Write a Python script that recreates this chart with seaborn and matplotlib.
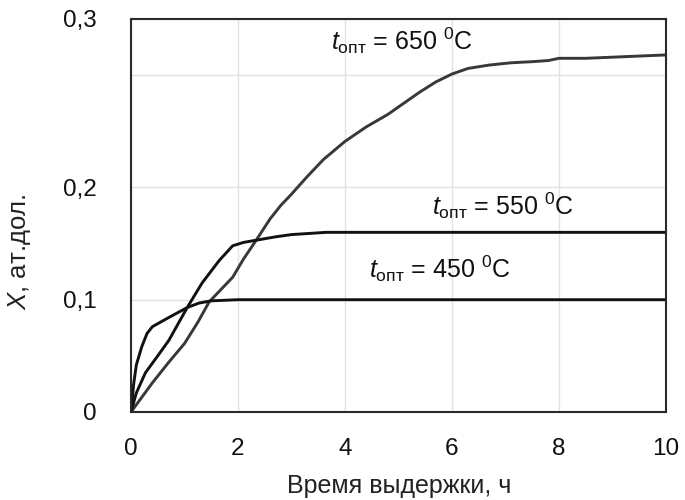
import pandas as pd
import matplotlib.pyplot as plt
import seaborn as sns

# Data
time_650 = [0, 0.2, 0.4, 0.7, 1.0, 1.25, 1.46, 1.7, 1.9, 2.1, 2.34, 2.6, 2.8, 3.0, 3.3, 3.6, 4.0, 4.4, 4.8, 5.1, 5.4, 5.7, 6.0, 6.3, 6.7, 7.1, 7.5, 7.8, 8.0, 8.5, 9.0, 9.5, 10]
x_650 = [0, 0.013, 0.026, 0.044, 0.061, 0.08, 0.098, 0.11, 0.12, 0.136, 0.153, 0.172, 0.184, 0.194, 0.21, 0.225, 0.241, 0.254, 0.265, 0.275, 0.285, 0.294, 0.301, 0.306, 0.309, 0.311, 0.312, 0.313, 0.315, 0.315, 0.316, 0.317, 0.318]

time_550 = [0, 0.1, 0.27, 0.5, 0.71, 1.05, 1.33, 1.65, 1.9, 2.1, 2.34, 2.7, 3.0, 3.65, 5, 7, 10]
x_550 = [0, 0.017, 0.035, 0.05, 0.064, 0.093, 0.115, 0.135, 0.148, 0.151, 0.153, 0.156, 0.158, 0.16, 0.16, 0.16, 0.16]

time_450 = [0, 0.05, 0.1, 0.2, 0.3, 0.4, 0.7, 1.05, 1.27, 1.5, 2, 4, 7, 10]
x_450 = [0, 0.025, 0.042, 0.058, 0.07, 0.076, 0.084, 0.093, 0.097, 0.099, 0.1, 0.1, 0.1, 0.1]

x_ticks = [0, 2, 4, 6, 8, 10]
y_ticks = [0, 0.1, 0.2, 0.3, 0.35]
y_tick_labels = ["0", "0,1", "0,2", "", "0,3"]

labels = [r"$t_{\mathrm{опт}}$ = 650 $^{0}$C",
          r"$t_{\mathrm{опт}}$ = 550 $^{0}$C",
          r"$t_{\mathrm{опт}}$ = 450 $^{0}$C"]
label_pos = [(5.07, 0.331), (6.95, 0.184), (5.77, 0.128)]

sns.set_style("white")
plt.rcParams["font.family"] = ["Liberation Sans", "DejaVu Sans"]
plt.rcParams["mathtext.fontset"] = "custom"
plt.rcParams["mathtext.rm"] = "Liberation Sans"
plt.rcParams["mathtext.it"] = "Liberation Sans:italic"

fig = plt.figure(figsize=(6.85, 5), dpi=100)
ax = fig.add_axes([131 / 685, 88 / 500, 535 / 685, 393 / 500])

curves = [(time_650, x_650, "#383838"), (time_550, x_550, "#111111"), (time_450, x_450, "#111111")]
for t, x, c in curves:
    sns.lineplot(x=t, y=x, ax=ax, color=c, linewidth=2.1, estimator=None, sort=False)

ax.set_xlim(0, 10)
ax.set_ylim(0, 0.35)
ax.set_xticks(x_ticks)
ax.set_xticklabels([str(v) for v in x_ticks])
ax.set_yticks(y_ticks)
ax.set_yticklabels(y_tick_labels)

ax.grid(True, color="#e2e2e2", linewidth=1.0)
ax.set_axisbelow(True)
ax.tick_params(axis="both", direction="out", length=4.5, color="#dddddd",
               labelsize=17.5, labelcolor="#111111")
ax.tick_params(axis="x", pad=14)
ax.tick_params(axis="y", pad=20)

for s in ax.spines.values():
    s.set_color("#2a2a2a")
    s.set_linewidth(1.5)

for txt, (px, py) in zip(labels, label_pos):
    ax.text(px, py, txt, fontsize=18, ha="center", va="center", color="#111111")

ax.set_xlabel("Время выдержки, ч", fontsize=18, color="#222222")
ax.xaxis.set_label_coords((399 - 131) / 535, -(474 - 412) / 393)
ax.set_ylabel(r"$X$, ат.дол.", fontsize=18.5, color="#222222")
ax.yaxis.set_label_coords(-(131 - 33) / 535, (412 - 252) / 393)

plt.savefig("out.png", dpi=100)
plt.close()
